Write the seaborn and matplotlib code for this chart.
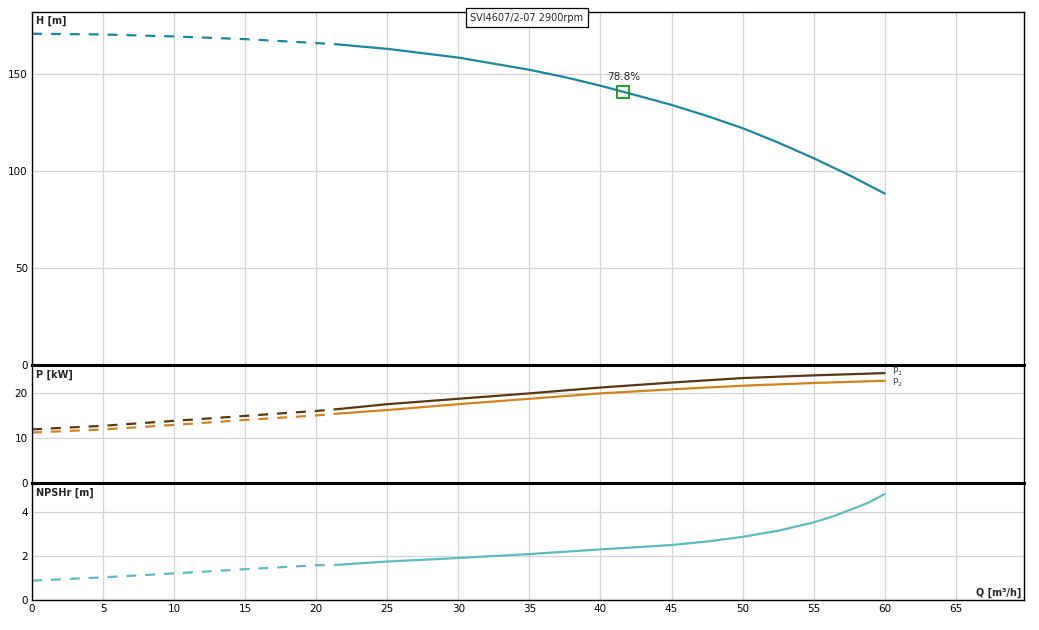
import matplotlib
matplotlib.use("Agg")
import matplotlib.pyplot as plt
import seaborn as sns

sns.set_style("white")
plt.rcParams['font.family'] = ['DejaVu Sans']

# pump curve SVI4607/2-07 at 2900rpm
title = "SVI4607/2-07 2900rpm"

# head curve, dashed part (outside operating range) and solid part
q_h_dash = [0, 5, 10, 15, 20, 21.5]
h_dash = [170.8, 170.4, 169.4, 168.0, 166.0, 165.3]
q_h = [21.5, 25, 30, 35, 37.5, 40, 42.5, 45, 47.5, 50, 52.5, 55, 57.5, 60]
h_vals = [165.3, 163.0, 158.5, 152.2, 148.4, 144.0, 139.1, 134.1, 128.4,
          122.1, 114.7, 106.6, 97.9, 88.4]

# best efficiency point
bep_q = 41.6
bep_h = 140.9
bep_label = "78.8%"

# power P1 / P2
q_p_dash = [0, 5, 10, 15, 20, 21.5]
p1_dash = [11.9, 12.7, 13.8, 14.9, 16.0, 16.4]
p2_dash = [11.2, 11.9, 12.9, 14.0, 15.0, 15.4]
q_p = [21.5, 25, 30, 35, 40, 45, 50, 55, 60]
p1_vals = [16.4, 17.5, 18.7, 19.9, 21.2, 22.3, 23.3, 23.9, 24.4]
p2_vals = [15.4, 16.2, 17.5, 18.7, 19.9, 20.8, 21.6, 22.2, 22.7]

# NPSHr
q_n_dash = [0, 5, 10, 15, 20, 21.5]
n_dash = [0.88, 1.03, 1.21, 1.40, 1.58, 1.60]
q_n = [21.5, 25, 30, 35, 40, 45, 47.5, 50, 52.5, 55, 56.3, 57.5, 58.8, 60]
n_vals = [1.60, 1.75, 1.91, 2.09, 2.30, 2.50, 2.66, 2.87, 3.15, 3.53,
          3.79, 4.08, 4.41, 4.82]

x_ticks = [0, 5, 10, 15, 20, 25, 30, 35, 40, 45, 50, 55, 60, 65]

c_h = "#1b87a0"
c_p1 = "#5a3712"
c_p2 = "#d2821f"
c_n = "#5dbcc2"
dash = (0, (4.5, 4))

fig = plt.figure(figsize=(10.39, 6.30), dpi=100)
left, width = 32 / 1039, 992 / 1039
ax_h = fig.add_axes([left, 1 - 365 / 630, width, 353 / 630])
ax_p = fig.add_axes([left, 1 - 483 / 630, width, 118 / 630])
ax_n = fig.add_axes([left, 1 - 600 / 630, width, 117 / 630])

for ax in (ax_h, ax_p, ax_n):
    ax.set_xlim(0, 69.8)
    ax.set_xticks(x_ticks)
    ax.grid(True, color="#d4d4d4", linewidth=0.9)
    ax.set_axisbelow(True)
    ax.tick_params(length=0, labelsize=7.5, pad=3, colors="black")
    for s in ax.spines.values():
        s.set_color("black")
        s.set_linewidth(1.0)

ax_h.tick_params(labelbottom=False)
ax_p.tick_params(labelbottom=False)
ax_p.spines["top"].set_linewidth(2.2)
ax_n.spines["top"].set_linewidth(2.2)

# head
sns.lineplot(x=q_h_dash, y=h_dash, ax=ax_h, color=c_h, linewidth=1.6, linestyle=dash, estimator=None)
sns.lineplot(x=q_h, y=h_vals, ax=ax_h, color=c_h, linewidth=1.6, estimator=None)
ax_h.plot(bep_q, bep_h, marker="s", markersize=8, markerfacecolor="none",
          markeredgecolor="#22a022", markeredgewidth=1.4)
ax_h.annotate(bep_label, (bep_q, bep_h), xytext=(0, 7), textcoords="offset points",
              ha="center", va="bottom", fontsize=7.5)
ax_h.set_ylim(0, 182)
ax_h.set_yticks([0, 50, 100, 150])
ax_h.set_xlabel("")
ax_h.set_ylabel("")
ax_h.text(0.004, 0.99, "H [m]", transform=ax_h.transAxes, ha="left", va="top",
          fontsize=7, fontweight="bold")
ax_h.text(0.499, 0.998, title, transform=ax_h.transAxes, ha="center", va="top",
          fontsize=7, bbox=dict(boxstyle="square,pad=0.45", fc="white", ec="black", lw=0.9))

# power
sns.lineplot(x=q_p_dash, y=p1_dash, ax=ax_p, color=c_p1, linewidth=1.6, linestyle=dash, estimator=None)
sns.lineplot(x=q_p_dash, y=p2_dash, ax=ax_p, color=c_p2, linewidth=1.6, linestyle=dash, estimator=None)
sns.lineplot(x=q_p, y=p1_vals, ax=ax_p, color=c_p1, linewidth=1.6, estimator=None)
sns.lineplot(x=q_p, y=p2_vals, ax=ax_p, color=c_p2, linewidth=1.6, estimator=None)
ax_p.text(q_p[-1] + 0.5, p1_vals[-1] + 0.2, "P$_1$", fontsize=6.5, color="#444444", va="center")
ax_p.text(q_p[-1] + 0.5, p2_vals[-1] - 0.5, "P$_2$", fontsize=6.5, color="#444444", va="center")
ax_p.set_ylim(0, 26.2)
ax_p.set_yticks([0, 10, 20])
ax_p.set_xlabel("")
ax_p.set_ylabel("")
ax_p.text(0.004, 0.96, "P [kW]", transform=ax_p.transAxes, ha="left", va="top",
          fontsize=7, fontweight="bold")

# npsh
sns.lineplot(x=q_n_dash, y=n_dash, ax=ax_n, color=c_n, linewidth=1.6, linestyle=dash, estimator=None)
sns.lineplot(x=q_n, y=n_vals, ax=ax_n, color=c_n, linewidth=1.6, estimator=None)
ax_n.set_ylim(0, 5.32)
ax_n.set_yticks([0, 2, 4])
ax_n.set_xlabel("")
ax_n.set_ylabel("")
ax_n.text(0.004, 0.96, "NPSHr [m]", transform=ax_n.transAxes, ha="left", va="top",
          fontsize=7, fontweight="bold")
ax_n.text(0.997, 0.02, "Q [m³/h]", transform=ax_n.transAxes, ha="right", va="bottom",
          fontsize=7, fontweight="bold")

fig.savefig("out.png", dpi=100)
